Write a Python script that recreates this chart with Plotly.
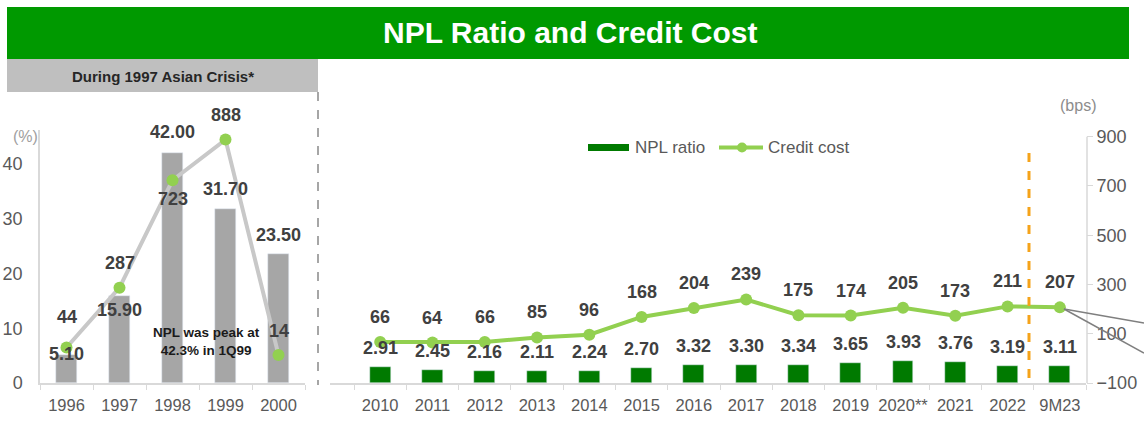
import plotly.graph_objects as go

# ---------------- data ----------------
years_crisis = ["1996", "1997", "1998", "1999", "2000"]
npl_crisis = [5.10, 15.90, 42.00, 31.70, 23.50]
cc_crisis = [44, 287, 723, 888, 14]

years_recent = ["2010", "2011", "2012", "2013", "2014", "2015", "2016", "2017",
                "2018", "2019", "2020**", "2021", "2022", "9M23"]
npl_recent = [2.91, 2.45, 2.16, 2.11, 2.24, 2.70, 3.32, 3.30, 3.34, 3.65, 3.93, 3.76, 3.19, 3.11]
cc_recent = [66, 64, 66, 85, 96, 168, 204, 239, 175, 174, 205, 173, 211, 207]

bps_ticks = [-100, 100, 300, 500, 700, 900]
pct_ticks = [0, 10, 20, 30, 40]

# ---------------- style ----------------
W, H = 1144, 425
FONT = "Liberation Sans, Arial, sans-serif"
DARK = "#404040"
TICK = "#595959"
AX = "#d9d9d9"
GREEN_BAR = "#007a00"
LIGHT_GREEN = "#92d050"
GREY_BAR = "#a6a6a6"
GREY_LINE = "#c8c8c8"

def px(x):
    return x / W

def py(y):
    return 1 - y / H

# per-label vertical offsets (pixels, upward) for the crisis panel
npl_crisis_shift = [1, -14, 21, 20, 19]
cc_crisis_shift = [31, 25, -19, 25, 24]

PCT_RANGE = [0, 46.2]
BPS_RANGE = [-100, 927]
Y_DOM = [py(383), py(130)]

fig = go.Figure()

# left panel
fig.add_trace(go.Bar(x=years_crisis, y=npl_crisis, marker_color=GREY_BAR, width=0.4,
                     xaxis="x", yaxis="y", showlegend=False, hoverinfo="skip"))
fig.add_trace(go.Scatter(x=years_crisis, y=cc_crisis, mode="lines+markers",
                         line=dict(color=GREY_LINE, width=4),
                         marker=dict(color=LIGHT_GREEN, size=12),
                         xaxis="x", yaxis="y2", showlegend=False, hoverinfo="skip"))
# right panel
fig.add_trace(go.Bar(x=years_recent, y=npl_recent, marker_color=GREEN_BAR, width=0.4,
                     xaxis="x2", yaxis="y3", showlegend=False, hoverinfo="skip"))
fig.add_trace(go.Scatter(x=years_recent, y=cc_recent, mode="lines+markers",
                         line=dict(color=LIGHT_GREEN, width=4),
                         marker=dict(color=LIGHT_GREEN, size=12),
                         xaxis="x2", yaxis="y4", showlegend=False, hoverinfo="skip"))

annotations = []
lab_font = dict(family=FONT, size=18, color=DARK)
for i, v in enumerate(npl_crisis):
    annotations.append(dict(x=i, y=v, xref="x", yref="y", text=f"<b>{v:.2f}</b>",
                            showarrow=False, yanchor="middle", yshift=npl_crisis_shift[i],
                            font=lab_font))
for i, v in enumerate(cc_crisis):
    annotations.append(dict(x=i, y=v, xref="x", yref="y2", text=f"<b>{v}</b>",
                            showarrow=False, yanchor="middle", yshift=cc_crisis_shift[i],
                            font=lab_font))
for i, v in enumerate(npl_recent):
    annotations.append(dict(x=i, y=v, xref="x2", yref="y3", text=f"<b>{v:.2f}</b>",
                            showarrow=False, yanchor="middle", yshift=19, font=lab_font))
for i, v in enumerate(cc_recent):
    annotations.append(dict(x=i, y=v, xref="x2", yref="y4", text=f"<b>{v}</b>",
                            showarrow=False, yanchor="middle", yshift=25, font=lab_font))

def paper_text(x, y, text, size, color, xanchor="center"):
    return dict(x=px(x), y=py(y), xref="paper", yref="paper", text=text, showarrow=False,
                xanchor=xanchor, yanchor="middle", align="center",
                font=dict(family=FONT, size=size, color=color))

annotations += [
    paper_text(570, 33, "<b>NPL Ratio and Credit Cost</b>", 30, "white"),
    paper_text(163, 76, "<b>During 1997 Asian Crisis*</b>", 15, "#262626"),
    paper_text(206, 341, "<b>NPL was peak at<br>42.3% in 1Q99</b>", 13.5, "#1a1a1a"),
    paper_text(25, 136, "(%)", 16, "#a0a0a0"),
    paper_text(1078, 106, "(bps)", 16, "#8c8c8c"),
    paper_text(633, 147, "NPL ratio", 17, TICK, "left"),
    paper_text(766, 147, "Credit cost", 17, TICK, "left"),
]

shapes = [
    # title bar
    dict(type="rect", xref="paper", yref="paper", x0=px(7), x1=px(1129), y0=py(59), y1=py(7),
         fillcolor="#009900", line=dict(width=0), layer="below"),
    # grey header box
    dict(type="rect", xref="paper", yref="paper", x0=px(7), x1=px(318), y0=py(92), y1=py(59),
         fillcolor="#bfbfbf", line=dict(width=0), layer="below"),
    # separator dashed line
    dict(type="line", xref="paper", yref="paper", x0=px(318), x1=px(318), y0=py(92), y1=py(385),
         line=dict(color="#a6a6a6", width=2, dash="dash")),
    # orange dashed divider
    dict(type="line", xref="paper", yref="paper", x0=px(1029), x1=px(1029), y0=py(153), y1=py(386),
         line=dict(color="#f5a31a", width=3, dash="dash")),
    # right axis line
    dict(type="line", xref="paper", yref="y4", x0=px(1087), x1=px(1087), y0=-100, y1=900,
         line=dict(color=AX, width=1.5)),
    # callout lines
    dict(type="line", xref="paper", yref="paper", x0=px(1064), x1=px(1144), y0=py(309), y1=py(323),
         line=dict(color="#7f7f7f", width=1.5)),
    dict(type="line", xref="paper", yref="paper", x0=px(1064), x1=px(1144), y0=py(309), y1=py(353),
         line=dict(color="#7f7f7f", width=1.5)),
    # legend symbols
    dict(type="rect", xref="paper", yref="paper", x0=px(588), x1=px(629), y0=py(151), y1=py(144),
         fillcolor=GREEN_BAR, line=dict(width=0)),
    dict(type="line", xref="paper", yref="paper", x0=px(719), x1=px(763), y0=py(147.5), y1=py(147.5),
         line=dict(color=LIGHT_GREEN, width=4)),
    dict(type="circle", xref="paper", yref="paper", x0=px(737), x1=px(747), y0=py(152.5), y1=py(142.5),
         fillcolor=LIGHT_GREEN, line=dict(width=0)),
]

xaxis_common = dict(type="category", showgrid=False, zeroline=False, showline=True,
                    linecolor=AX, linewidth=1.5, ticks="outside", tickson="boundaries",
                    ticklen=5, tickcolor=AX, tickangle=0, ticklabelstandoff=6,
                    automargin=False,
                    tickfont=dict(family=FONT, size=16.5, color=TICK),
                    fixedrange=True)

fig.update_layout(
    width=W, height=H, autosize=False, margin=dict(l=0, r=0, t=0, b=0, pad=0),
    paper_bgcolor="white", plot_bgcolor="rgba(0,0,0,0)",
    bargap=0, showlegend=False,
    xaxis=dict(xaxis_common, domain=[px(40), px(305)], range=[-0.5, 4.5], anchor="y"),
    xaxis2=dict(xaxis_common, domain=[px(330), px(1086)], range=[-0.96, 13.5], anchor="y3"),
    yaxis=dict(domain=Y_DOM, range=PCT_RANGE, tickvals=pct_ticks, showgrid=False, zeroline=False,
               showline=True, linecolor=AX, linewidth=1.5, ticks="", anchor="x",
               ticklabelstandoff=12, automargin=False,
               tickfont=dict(family=FONT, size=18, color=TICK)),
    yaxis2=dict(domain=Y_DOM, range=BPS_RANGE, overlaying="y", visible=False, anchor="x",
                automargin=False),
    yaxis3=dict(domain=Y_DOM, range=PCT_RANGE, visible=False, anchor="x2", automargin=False),
    yaxis4=dict(domain=Y_DOM, range=BPS_RANGE, overlaying="y3", side="right", anchor="x2",
                tickvals=bps_ticks, showgrid=False, zeroline=False, showline=False,
                ticks="outside", ticklen=6, tickcolor=AX, automargin=False,
                tickfont=dict(family=FONT, size=18, color=TICK)),
    annotations=annotations, shapes=shapes,
)

post = (
    "var s=document.documentElement.style;s.margin='0';s.padding='0';s.overflow='hidden';"
    "var b=document.body.style;b.margin='0';b.padding='0';b.overflow='hidden';"
)
fig.write_html("out.html", config={"responsive": False, "displayModeBar": False},
               post_script=post)
